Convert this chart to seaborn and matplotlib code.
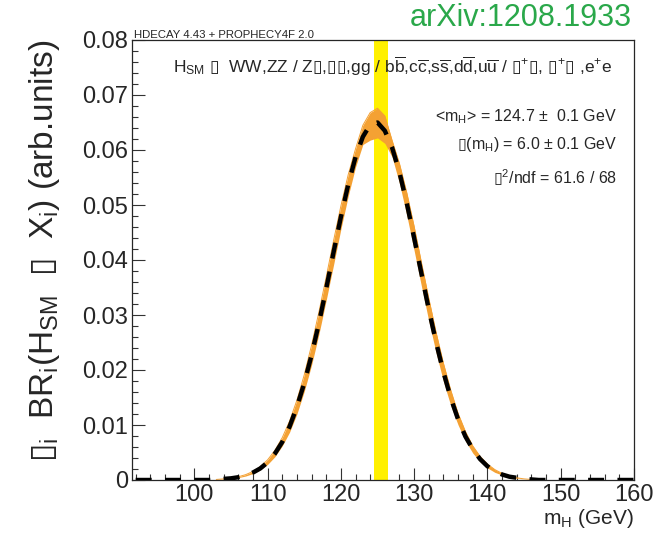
import numpy as np
import pandas as pd
import matplotlib
matplotlib.use('Agg')
import matplotlib.pyplot as plt
import seaborn as sns

# m_H grid (GeV)
mass = [92, 93, 94, 95, 96, 97, 98, 99, 100, 101, 102, 103, 104, 105, 106, 107,
        108, 109, 110, 111, 112, 113, 114, 115, 116, 117, 118, 119, 120, 121,
        122, 123, 124, 125, 126, 127, 128, 129, 130, 131, 132, 133, 134, 135,
        136, 137, 138, 139, 140, 141, 142, 143, 144, 145, 146, 147, 148, 149,
        150, 151, 152, 153, 154, 155, 156, 157, 158, 159, 160]

# fitted shape (black dashed)
fit_curve = [0, 0, 0, 0, 0, 0, 0, 0, 0, 0, 0, 0.0001, 0.0002, 0.0003, 0.0005,
             0.0008, 0.00135, 0.0021, 0.0032, 0.0048, 0.0069, 0.0097, 0.0133,
             0.0176, 0.0227, 0.0285, 0.0348, 0.0414, 0.0478, 0.0537, 0.0587,
             0.0624, 0.0646, 0.0650, 0.0635, 0.0604, 0.0559, 0.0503, 0.0440,
             0.0375, 0.0310, 0.0250, 0.0196, 0.0149, 0.0110, 0.0079, 0.0056,
             0.0038, 0.0025, 0.0016, 0.0010, 0.0006, 0.0004, 0.0002, 0.0001,
             0, 0, 0, 0, 0, 0, 0, 0, 0, 0, 0, 0, 0, 0]

# orange uncertainty band
band_mass = [103, 104, 105, 106, 107, 108, 109, 110, 111, 112, 113, 114, 115,
             116, 117, 118, 119, 120, 121, 122, 123, 124, 125, 126, 127, 128,
             129, 130, 131, 132, 133, 134, 135, 136, 137, 138, 139, 140, 141,
             142, 143, 144, 145, 146, 147]
band_hi = [0.0001, 0.0002, 0.00035, 0.00059, 0.00097, 0.00155, 0.00242, 0.00366,
           0.00538, 0.0077, 0.0107, 0.0145, 0.0191, 0.0245, 0.0305, 0.0369,
           0.0435, 0.0498, 0.0555, 0.0602, 0.0645, 0.0668, 0.0676, 0.0662,
           0.0617, 0.0575, 0.0522, 0.0461, 0.0395, 0.0330, 0.0268, 0.0212,
           0.0163, 0.0121, 0.0088, 0.0062, 0.0043, 0.0029, 0.0019, 0.0012,
           0.0007, 0.0004, 0.0002, 0.0001, 0]
band_lo = [0.0001, 0.00014, 0.00025, 0.00043, 0.00072, 0.00117, 0.00184, 0.00283,
           0.00424, 0.0062, 0.0087, 0.0120, 0.0161, 0.0209, 0.0265, 0.0327,
           0.0391, 0.0456, 0.0516, 0.0569, 0.0610, 0.0618, 0.0622, 0.0612,
           0.0587, 0.0539, 0.0481, 0.0417, 0.0352, 0.0289, 0.0231, 0.0179,
           0.0135, 0.0100, 0.0071, 0.0049, 0.0033, 0.0022, 0.0014, 0.0009,
           0.0005, 0.0003, 0.0002, 0.0001, 0]

# measured mass window (yellow)
window = [124.5, 126.5]

x_ticks = [100, 110, 120, 130, 140, 150, 160]
y_ticks = [0, 0.01, 0.02, 0.03, 0.04, 0.05, 0.06, 0.07, 0.08]
y_tick_labels = ['0', '0.01', '0.02', '0.03', '0.04', '0.05', '0.06', '0.07', '0.08']

sns.set_style('ticks')
plt.rcParams['font.family'] = ['Liberation Sans', 'DejaVu Sans']
plt.rcParams['mathtext.fontset'] = 'custom'
plt.rcParams['mathtext.rm'] = 'Liberation Sans'
plt.rcParams['mathtext.it'] = 'Liberation Sans'
plt.rcParams['mathtext.bf'] = 'Liberation Sans:bold'
plt.rcParams['mathtext.sf'] = 'DejaVu Sans'

# missing-glyph box, as printed in the original
BOX = '$\\mathsf{\u25af}$'

fig = plt.figure(figsize=(6.61, 5.33), dpi=100)
ax = fig.add_axes([132 / 661, 53 / 533, 502 / 661, 440 / 533])

ax.axvspan(window[0], window[1], color='#fff000', lw=0, zorder=1)
ax.fill_between(band_mass, band_lo, band_hi, color='#f4a133', lw=0, zorder=2)
ax.plot(band_mass, band_hi, color='#f4a133', lw=0.7, zorder=2)

df = pd.DataFrame({'m': mass, 'y': fit_curve})
sns.lineplot(data=df, x='m', y='y', ax=ax, color='black', lw=3.2,
             dashes=False, zorder=3)
ax.lines[-1].set_dashes([3.6, 3.0])

ax.set_xlim(91.5, 160)
ax.set_ylim(0, 0.08)
ax.set_xticks(x_ticks)
ax.set_xticks(np.arange(92, 161, 2), minor=True)
ax.set_yticks(y_ticks)
ax.set_yticklabels(y_tick_labels)
ax.set_yticks(np.arange(0, 0.0801, 0.002), minor=True)
ax.tick_params(which='both', direction='in', top=False, right=False,
               labelsize=17, width=0.8, color='#333333')
ax.tick_params(which='major', length=9, pad=3)
ax.tick_params(which='minor', length=4.5)
for s in ax.spines.values():
    s.set_linewidth(0.9)

ax.set_xlabel('m$_{H}$ (GeV)', fontsize=15, loc='right')
ax.xaxis.set_label_coords(1.0, -0.062)
ax.set_ylabel(BOX + '$_{i}$  BR$_{i}$(H$_{SM}$  ' + BOX + '  X$_{i}$) (arb.units)',
              fontsize=24, loc='top')
ax.yaxis.set_label_coords(-0.14, 1.0)

fig.text(134 / 661, 1 - 38 / 533, 'HDECAY 4.43 + PROPHECY4F 2.0',
         fontsize=8.2, ha='left', va='baseline')
fig.text(632 / 661, 1 - 18 / 533, 'arXiv:1208.1933', color='#2aa84a',
         fontsize=22, ha='right', va='center')

title = ('H$_{SM}$ ' + BOX + '  WW,ZZ / Z' + BOX + ',' + BOX + BOX + ',gg / '
         'b$\\overline{b}$,c$\\overline{c}$,s$\\overline{s}$,d$\\overline{d}$,'
         'u$\\overline{u}$ / ' + BOX + '$^{+}$' + BOX + ', ' + BOX + '$^{+}$'
         + BOX + ' ,e$^{+}$e')
fig.text(393 / 661, 1 - 66 / 533, title, fontsize=12.5, ha='center', va='center')

stats = ['<m$_{H}$> = 124.7 \u00b1  0.1 GeV',
         BOX + '(m$_{H}$) = 6.0 \u00b1 0.1 GeV',
         BOX + '$^{2}$/ndf = 61.6 / 68']
for txt, yp in zip(stats, [117, 145, 178]):
    fig.text(617 / 661, 1 - yp / 533, txt, fontsize=11.5, ha='right', va='center')

fig.savefig('out.png', dpi=100)
